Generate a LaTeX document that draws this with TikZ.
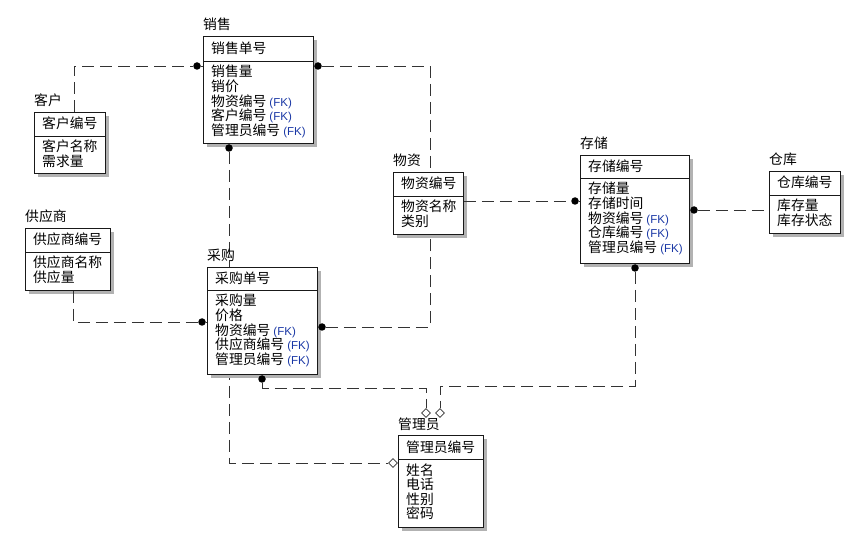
\documentclass[tikz,border=0pt]{standalone}
\usepackage{fontspec}
\setmainfont{Noto Sans CJK SC}
\newfontfamily\fkfont{Liberation Sans}
\usetikzlibrary{shapes.geometric}
\definecolor{fkblue}{RGB}{25,55,165}
\newcommand\FK{ {\fkfont\fontsize{11.5}{12}\selectfont\color{fkblue}(FK)}}
% name, left, top, right, sep, bottom, title, key, body-list
\newcommand\ent[9]{%
  \fill[gray!60] ({#2+4},{#3+4}) rectangle ({#4+4},{#6+4});
  \node[box, minimum width={#4-#2}, minimum height={#6-#3}] (#1) at (#2,#3) {};
  \draw[boxline] (#1.west |- 0,#5) -- (#1.east |- 0,#5);
  \node[txt] (#1-title) at (#2,{#3-6}) {#7};
  \node[txt] (#1-key) at ({#2+8},{(#3+#5)/2+5}) {#8};
  \foreach \t [count=\i] in {#9} {\node[txt] (#1-\i) at ({#2+8},{#5+16+(\i-1)*14.6}) {\t};}
}
\begin{document}
\begin{tikzpicture}[x=1pt,y=-1pt,
  font=\fontsize{13.8}{14.6}\selectfont,
  box/.style={draw=black!90, line width=0.9pt, fill=white, inner sep=0pt, anchor=north west},
  boxline/.style={draw=black!90, line width=0.9pt},
  txt/.style={anchor=base west, inner sep=0pt},
  dsh/.style={draw=black!80, line width=0.9pt, dash pattern=on 12pt off 6pt},
  sol/.style={draw=black!80, line width=0.9pt},
  dot/.style={circle, fill=black, inner sep=0pt, minimum size=7.5pt},
  dia/.style={diamond, draw=black!80, fill=white, line width=0.8pt, inner sep=0pt, minimum size=9pt}]
\fill[white] (0,0) rectangle (865,545);
\useasboundingbox (0,0) rectangle (865,545);

\ent{xs}{203}{36}{313}{61}{143}{销售}{销售单号}{销售量,销价,物资编号\FK,客户编号\FK,管理员编号\FK}
\ent{kh}{34}{112}{105}{136}{173}{客户}{客户编号}{客户名称,需求量}
\ent{gys}{25}{228}{110}{252}{290}{供应商}{供应商编号}{供应商名称,供应量}
\ent{wz}{393}{172}{463}{196}{234}{物资}{物资编号}{物资名称,类别}
\ent{cc}{580}{155}{689}{178}{263}{存储}{存储编号}{存储量,存储时间,物资编号\FK,仓库编号\FK,管理员编号\FK}
\ent{ck}{769}{171}{840}{195}{233}{仓库}{仓库编号}{库存量,库存状态}
\ent{gly}{398}{435}{483}{459}{527}{管理员}{管理员编号}{姓名,电话,性别,密码}

% 管理员 -> 销售 (line passes behind 采购)
\node[dot] (d3) at (229,148) {};
\node[dia] (g1) at (393,463) {};
\coordinate (b3) at (229,463);
\draw[dsh] (d3) -- (b3) -- (g1);
\draw[sol] (d3) -- (xs.south -| d3);

\ent{cg}{207}{267}{317}{290}{374}{采购}{采购单号}{采购量,价格,物资编号\FK,供应商编号\FK,管理员编号\FK}

% 客户 -> 销售
\node[dot] (d1) at (197,66) {};
\coordinate (b1) at (74,66);
\draw[dsh] (kh.north -| b1) -- (b1) -- (d1);
\draw[sol] (d1) -- (xs.west |- d1);

% 物资 -> 销售
\node[dot] (d2) at (318,66) {};
\coordinate (b2) at (430,66);
\draw[sol] (xs.east |- d2) -- (d2);
\draw[dsh] (d2) -- (b2) -- (wz.north -| b2);

% 供应商 -> 采购
\node[dot] (d4) at (202,322) {};
\coordinate (b4) at (73,322);
\draw[dsh] (gys.south -| b4) -- (b4) -- (d4);
\draw[sol] (d4) -- (cg.west |- d4);

% 物资 -> 采购
\node[dot] (d5) at (322,327) {};
\coordinate (b5) at (430,327);
\draw[sol] (cg.east |- d5) -- (d5);
\draw[dsh] (d5) -- (b5) -- (wz.south -| b5);

% 管理员 -> 采购
\node[dot] (d6) at (262,379) {};
\node[dia] (g2) at (426,413) {};
\coordinate (b6a) at (262,388);
\coordinate (b6b) at (426,388);
\draw[sol] (cg.south -| d6) -- (d6);
\draw[dsh] (d6) -- (b6a) -- (b6b) -- (g2);

% 管理员 -> 存储
\node[dot] (d7) at (635,268) {};
\node[dia] (g3) at (440,413) {};
\coordinate (b7a) at (635,386);
\coordinate (b7b) at (440,386);
\draw[sol] (cc.south -| d7) -- (d7);
\draw[dsh] (d7) -- (b7a) -- (b7b) -- (g3);

% 物资 -> 存储
\node[dot] (d8) at (575,201) {};
\draw[dsh] (wz.east |- d8) -- (d8);
\draw[sol] (d8) -- (cc.west |- d8);

% 仓库 -> 存储
\node[dot] (d9) at (694,210) {};
\draw[sol] (cc.east |- d9) -- (d9);
\draw[dsh] (d9) -- (ck.west |- d9);
\end{tikzpicture}
\end{document}
